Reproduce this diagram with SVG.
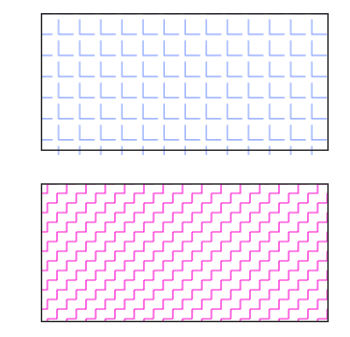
<svg xmlns="http://www.w3.org/2000/svg" width="350" height="337" viewBox="0 0 350 337">
<defs>
<style>
.frame{fill:none;stroke:#222;stroke-width:1.4}
</style>
<pattern id="pL" patternUnits="userSpaceOnUse" x="55.6" y="16.2" width="21.1" height="21.1">
<path d="M3,3 V18.1 H18" fill="none" stroke="#7f9cff" stroke-width="1.1"/>
</pattern>
<pattern id="pS" patternUnits="userSpaceOnUse" x="57.05" y="183.65" width="19.3" height="19.3">
<path d="M0,9.65 H9.65 V0 M9.65,0 H19.3 M9.65,19.3 H19.3 M0,9.65 V19.3 M19.3,9.65 V19.3" fill="none" stroke="#f0c" stroke-width="1.1"/>
</pattern>
</defs>
<rect width="350" height="337" fill="#fff"/>
<g id="top-panel">
<rect x="41" y="13" width="287" height="142" fill="url(#pL)"/>
<rect class="frame" x="41.5" y="13.8" width="286.5" height="136.4"/>
</g>
<g id="bottom-panel">
<rect x="41" y="184" width="287" height="138" fill="url(#pS)"/>
<rect class="frame" x="41.5" y="184" width="286.5" height="137.5"/>
</g>
</svg>
